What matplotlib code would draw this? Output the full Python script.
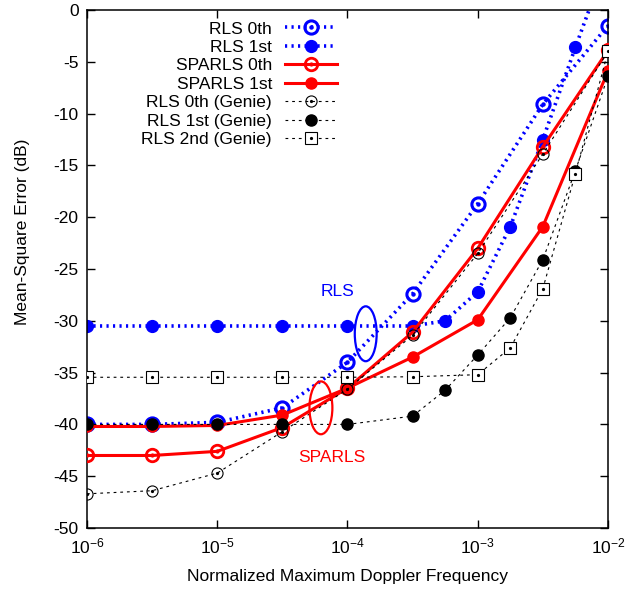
import numpy as np
import matplotlib; matplotlib.use('Agg')
import matplotlib.pyplot as plt
from matplotlib.patches import Ellipse
from matplotlib.legend_handler import HandlerTuple
from matplotlib.ticker import LogLocator, NullLocator, MultipleLocator

plt.rcParams.update({'font.family': ['Liberation Sans', 'DejaVu Sans'], 'font.size': 12.5,
                     'mathtext.default': 'regular', 'axes.unicode_minus': False})

# data (normalized max Doppler, MSE in dB)
f9 = [1e-6, 3.16e-6, 1e-5, 3.16e-5, 1e-4, 3.16e-4, 1e-3, 3.16e-3, 1e-2]
f_fine = [1e-6, 3.16e-6, 1e-5, 3.16e-5, 1e-4, 3.16e-4, 5.62e-4, 1e-3, 1.78e-3, 3.16e-3, 5.62e-3, 1e-2]
f_sq = [1e-6, 3.16e-6, 1e-5, 3.16e-5, 1e-4, 3.16e-4, 1e-3, 1.78e-3, 3.16e-3, 5.62e-3, 1e-2]

rls0 = [-40.0, -40.0, -39.8, -38.4, -34.0, -27.4, -18.7, -9.1, -1.5]
rls1 = [-30.5, -30.5, -30.5, -30.5, -30.5, -30.5, -30.0, -27.2, -20.9, -12.5, -3.6, 5.0]
sp0 = [-43.0, -43.0, -42.6, -40.3, -36.5, -31.1, -23.0, -13.2, -3.9]
sp1 = [-40.2, -40.2, -40.1, -39.1, -36.5, -33.5, -29.9, -20.9, -5.9]
g0 = [-46.7, -46.4, -44.7, -40.7, -36.6, -31.4, -23.5, -13.9, -4.0]
g1 = [-40.0, -40.0, -40.0, -40.0, -40.0, -39.2, -36.7, -33.3, -29.7, -24.1, -15.5, -6.4]
g2 = [-35.45, -35.45, -35.45, -35.45, -35.45, -35.4, -35.2, -32.6, -26.9, -15.8, -4.0]

BLUE = '#0000ff'; RED = '#ff0000'; BLK = '#000000'

fig = plt.figure(figsize=(6.41, 5.93), dpi=100)
ax = fig.add_axes([0.1357, 0.1096, 0.8128, 0.8735])

blue_dot = (0, (0.6, 1.2))
blk_dash = (0, (2.5, 3.5))

l1, = ax.plot(f9, rls0, color=BLUE, lw=2.6, ls=blue_dot, marker='o', ms=9.5, mfc='none', mew=2.2, zorder=2)
d1, = ax.plot(f9, rls0, color=BLUE, ls='none', marker='o', ms=2.2, zorder=2)
l2, = ax.plot(f_fine, rls1, color=BLUE, lw=2.6, ls=blue_dot, marker='o', ms=8.5, zorder=2)
l3, = ax.plot(f9, sp0, color=RED, lw=2.2, marker='o', ms=9, mfc='none', mew=2.0, zorder=3)
d3, = ax.plot(f9, sp0, color=RED, ls='none', marker='o', ms=2, zorder=3)
l4, = ax.plot(f9, sp1, color=RED, lw=2.2, marker='o', ms=8, zorder=3)
l5, = ax.plot(f9, g0, color=BLK, lw=0.8, ls=blk_dash, marker='o', ms=8, mfc='none', mew=0.8, zorder=4)
d5, = ax.plot(f9, g0, color=BLK, ls='none', marker='o', ms=1.3, zorder=4)
l6, = ax.plot(f_fine, g1, color=BLK, lw=0.8, ls=blk_dash, marker='o', ms=8, zorder=4)
l7, = ax.plot(f_sq, g2, color=BLK, lw=0.8, ls=blk_dash, marker='s', ms=8, mfc='white', mew=0.8, zorder=4)
d7, = ax.plot(f_sq, g2, color=BLK, ls='none', marker='o', ms=1.3, zorder=4)

ax.set_xscale('log')
ax.set_xlim(1e-6, 1e-2); ax.set_ylim(-50, 0)
ax.xaxis.set_major_locator(LogLocator(base=10, numticks=10))
ax.xaxis.set_minor_locator(NullLocator())
ax.yaxis.set_major_locator(MultipleLocator(5))
ax.tick_params(direction='in', length=5.5, width=1, top=True, right=True, labelsize=12.5, pad=6)
for s in ax.spines.values(): s.set_linewidth(1.1)
ax.set_xlabel('Normalized Maximum Doppler Frequency', fontsize=12.5, labelpad=9)
ax.set_ylabel('Mean-Square Error (dB)', fontsize=12.5)
ax.yaxis.set_label_coords(-0.110, 0.571)

leg = ax.legend([(l1, d1), l2, (l3, d3), l4, (l5, d5), l6, (l7, d7)],
                ['RLS 0th', 'RLS 1st', 'SPARLS 0th', 'SPARLS 1st', 'RLS 0th (Genie)', 'RLS 1st (Genie)', 'RLS 2nd (Genie)'],
                handler_map={tuple: HandlerTuple(ndivide=1, pad=0)},
                loc='upper right', bbox_to_anchor=(0.48, 0.978), markerfirst=False, frameon=False,
                borderaxespad=0, borderpad=0, handlelength=3.0, handletextpad=0.75, labelspacing=0.19,
                numpoints=1, fontsize=12.5)

ax.add_patch(Ellipse((0.535, 0.375), 0.042, 0.106, transform=ax.transAxes, fill=False, ec=BLUE, lw=1.6, zorder=5))
ax.add_patch(Ellipse((0.449, 0.232), 0.044, 0.102, transform=ax.transAxes, fill=False, ec=RED, lw=1.6, zorder=5))
ax.text(0.48, 0.456, 'RLS', color=BLUE, transform=ax.transAxes, ha='center', va='center', fontsize=12.5)
ax.text(0.469, 0.137, 'SPARLS', color=RED, transform=ax.transAxes, ha='center', va='center', fontsize=12.5)

fig.savefig('out.png', dpi=100)
